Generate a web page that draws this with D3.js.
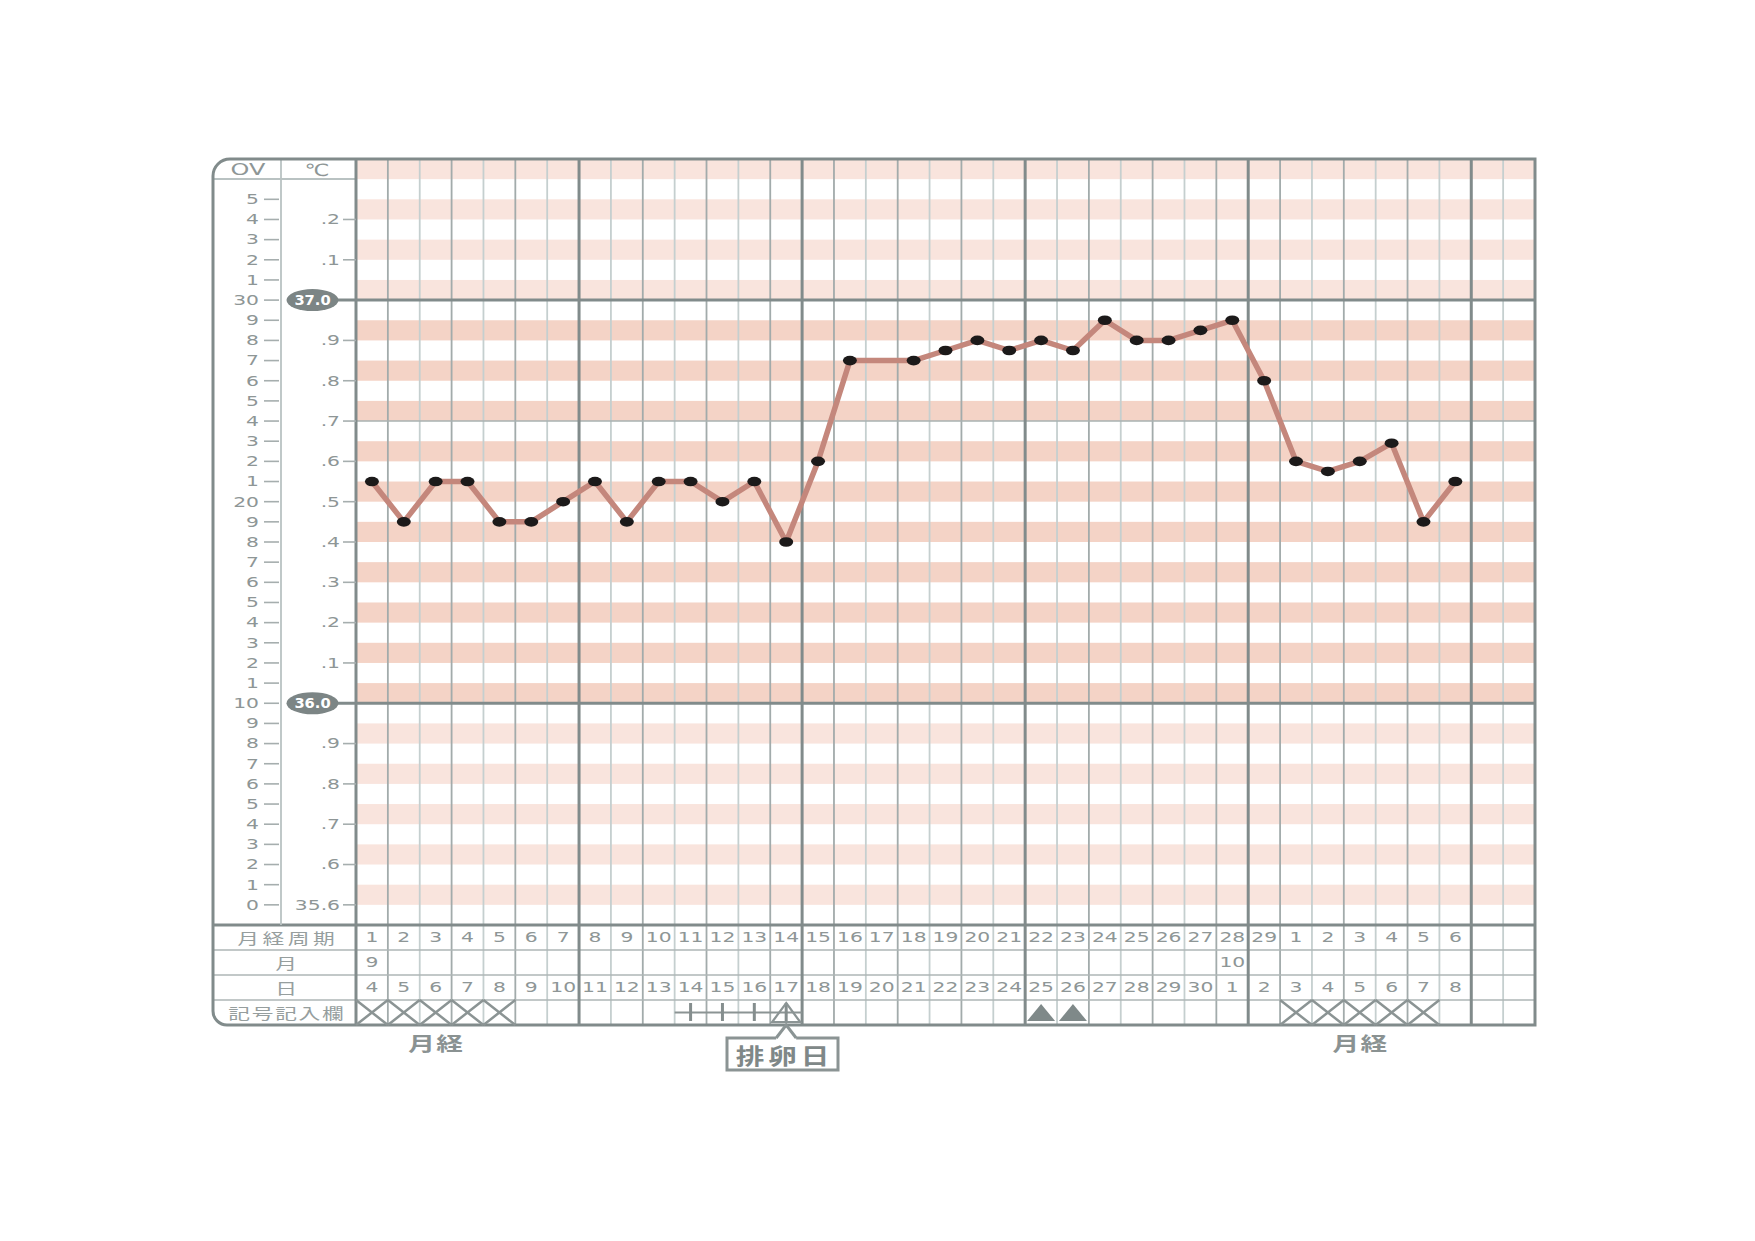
<!DOCTYPE html>
<html><head><meta charset="utf-8">
<script src="https://cdn.jsdelivr.net/npm/d3@7"></script>
<style>
body{margin:0;background:#fff;}
</style></head><body>
<svg id="c" width="1755" height="1241"></svg>
<script>
// ---------------- DATA ----------------
const cycleDays = [1,2,3,4,5,6,7,8,9,10,11,12,13,14,15,16,17,18,19,20,21,22,23,24,25,26,27,28,29,1,2,3,4,5,6];
const dates     = [4,5,6,7,8,9,10,11,12,13,14,15,16,17,18,19,20,21,22,23,24,25,26,27,28,29,30,1,2,3,4,5,6,7,8];
const monthLabels = [{col:1, text:"9"}, {col:28, text:"10"}];
const temps = [36.55,36.45,36.55,36.55,36.45,36.45,36.50,36.55,36.45,36.55,36.55,36.50,36.55,36.40,
               36.60,36.85,null,36.85,36.875,36.90,36.875,36.90,36.875,36.95,36.90,36.90,36.925,36.95,36.80,
               36.60,36.575,36.60,36.645,36.45,36.55];
const menstruationCols = [1,2,3,4,5,30,31,32,33,34];
const crossCols = [11,12,13,14];
const openTriangleCols = [14];
const filledTriangleCols = [22,23];
const ovLabels = ["5","4","3","2","1","30","9","8","7","6","5","4","3","2","1","20","9","8","7","6","5","4","3","2","1","10","9","8","7","6","5","4","3","2","1","0"];
const celsiusLabels = [".2",".1","37.0",".9",".8",".7",".6",".5",".4",".3",".2",".1","36.0",".9",".8",".7",".6","35.6"];
const rowNames = ["月経周期","月","日","記号記入欄"];
const periodNote = "月経";
const ovulationNote = "排卵日";
const totalCols = 37;

// ---------------- SETUP ----------------
const svg = d3.select("#c");
const FN = "'DejaVu Sans', sans-serif";
const FJ = "'Noto Sans CJK JP', 'Noto Sans CJK SC', sans-serif";
const GRID = "#818b8b", LIGHT = "#b9c2c2", TXT = "#8e9696";
const x = d3.scaleLinear().domain([0, totalCols]).range([356, 1535]);
const y = d3.scaleLinear().domain([35.45, 37.35]).range([925, 159]);
const ovT = v => 35.5 + 0.05 * v;
const rowY = d3.scaleBand().domain(rowNames).range([925, 1025]);
const colC = c => x(c - 0.5);

function txt(g, px, py, s, o) {
  const sx = o.sx || 1, ls = o.ls || 0;
  const a = o.anchor || "middle";
  g.append("text")
    .attr("transform", `translate(${px},${py}) scale(${sx},1)`)
    .attr("dx", a === "middle" ? ls / 2 : (a === "end" ? ls : 0))
    .attr("text-anchor", a)
    .attr("dominant-baseline", "central")
    .attr("font-family", o.family || FN)
    .attr("font-size", o.size || 14)
    .attr("font-weight", o.weight || "normal")
    .attr("letter-spacing", ls)
    .attr("fill", o.fill || TXT)
    .text(s);
}

// ---------------- STRIPES ----------------
const bands = d3.range(0, 19).map(k => ({lo: 2 * k, hi: 2 * k + 1}));
svg.append("g").selectAll("rect").data(bands).join("rect")
  .attr("x", x(0)).attr("width", x(totalCols) - x(0))
  .attr("y", d => y(ovT(d.hi))).attr("height", d => y(ovT(d.lo)) - y(ovT(d.hi)))
  .attr("fill", d => (d.lo >= 10 && d.lo < 30) ? "#f4d3c6" : "#f9e4dd");

// ---------------- GRID ----------------
const gGrid = svg.append("g");
const bounds = d3.range(1, totalCols);
gGrid.selectAll("line.minor").data(bounds.filter(b => b % 7 !== 0)).join("line")
  .attr("x1", b => x(b)).attr("x2", b => x(b)).attr("y1", 159).attr("y2", 1025)
  .attr("stroke", b => b % 2 ? "#a2abab" : "#c5cfcf").attr("stroke-width", 1.8);

// special temperature lines
gGrid.append("line").attr("x1", x(0)).attr("x2", x(totalCols))
  .attr("y1", y(36.7)).attr("y2", y(36.7)).attr("stroke", "#a9b2b2").attr("stroke-width", 1.6);
[37.0, 36.0].forEach(t => {
  gGrid.append("line").attr("x1", 338).attr("x2", x(totalCols))
    .attr("y1", y(t)).attr("y2", y(t)).attr("stroke", GRID).attr("stroke-width", 3);
});

// table row lines
rowNames.slice(1).forEach(r => {
  gGrid.append("line").attr("x1", 213).attr("x2", x(totalCols))
    .attr("y1", rowY(r)).attr("y2", rowY(r)).attr("stroke", "#aeb6b6").attr("stroke-width", 1.6);
});
gGrid.append("line").attr("x1", 213).attr("x2", x(totalCols))
  .attr("y1", 925).attr("y2", 925).attr("stroke", GRID).attr("stroke-width", 3);

// major verticals
gGrid.selectAll("line.major").data(bounds.filter(b => b % 7 === 0)).join("line")
  .attr("x1", b => x(b)).attr("x2", b => x(b)).attr("y1", 159).attr("y2", 1025)
  .attr("stroke", GRID).attr("stroke-width", 3);

// left panel
gGrid.append("line").attr("x1", 281).attr("x2", 281).attr("y1", 159).attr("y2", 925)
  .attr("stroke", LIGHT).attr("stroke-width", 1.8);
gGrid.append("line").attr("x1", 213).attr("x2", x(0)).attr("y1", 179).attr("y2", 179)
  .attr("stroke", LIGHT).attr("stroke-width", 1.8);
gGrid.append("line").attr("x1", x(0)).attr("x2", x(0)).attr("y1", 159).attr("y2", 1025)
  .attr("stroke", GRID).attr("stroke-width", 3);

// outer frame
const L = 213, T = 159, R = x(totalCols), B = 1025, r1 = 17, r2 = 14;
svg.append("path")
  .attr("d", `M${L + r1},${T} H${R} V${B} H${L + r2} A${r2},${r2} 0 0 1 ${L},${B - r2} V${T + r1} A${r1},${r1} 0 0 1 ${L + r1},${T} Z`)
  .attr("fill", "none").attr("stroke", GRID).attr("stroke-width", 3);

// ---------------- AXIS LABELS ----------------
const gAx = svg.append("g");
txt(gAx, 248, 170, "OV", {size: 16, sx: 1.5});
txt(gAx, 317, 170, "℃", {size: 17, sx: 1.3});

ovLabels.forEach((s, i) => {
  const yy = y(ovT(35 - i));
  txt(gAx, 259, yy, s, {size: 14, sx: 1.45, anchor: "end"});
  gAx.append("line").attr("x1", 264).attr("x2", 279).attr("y1", yy).attr("y2", yy)
    .attr("stroke", "#a6aeae").attr("stroke-width", 1.6);
});
celsiusLabels.forEach((s, i) => {
  const yy = y(ovT(34 - 2 * i));
  if (s === "37.0" || s === "36.0") {
    gAx.append("ellipse").attr("cx", 312.5).attr("cy", yy).attr("rx", 26).attr("ry", 11).attr("fill", "#7c8585");
    txt(gAx, 312.5, yy, s, {size: 14, sx: 1.05, weight: "bold", fill: "#ffffff"});
  } else {
    txt(gAx, 340, yy, s, {size: 14, sx: 1.45, anchor: "end"});
    gAx.append("line").attr("x1", 343).attr("x2", 356).attr("y1", yy).attr("y2", yy)
      .attr("stroke", "#a6aeae").attr("stroke-width", 1.6);
  }
});

// ---------------- DATA LINE ----------------
const pts = temps.map((t, i) => ({col: i + 1, t})).filter(d => d.t !== null);
svg.append("path").datum(pts)
  .attr("d", d3.line().x(d => colC(d.col)).y(d => y(d.t)))
  .attr("fill", "none").attr("stroke", "#c4877c").attr("stroke-width", 5.5)
  .attr("stroke-linejoin", "round");
svg.append("g").selectAll("ellipse").data(pts).join("ellipse")
  .attr("cx", d => colC(d.col)).attr("cy", d => y(d.t))
  .attr("rx", 7).attr("ry", 4.8).attr("fill", "#1c1a1a");

// ---------------- TABLE ----------------
const gT = svg.append("g");
const rc = r => rowY(r) + rowY.bandwidth() / 2;
rowNames.forEach(r => txt(gT, 286, rc(r), r, {family: FJ, size: 15, sx: 1.45, ls: r.length > 4 ? 1.2 : 2.4, fill: "#969e9e"}));
cycleDays.forEach((d, i) => txt(gT, colC(i + 1), rc("月経周期"), String(d), {size: 14, sx: 1.45}));
monthLabels.forEach(m => txt(gT, colC(m.col), rc("月"), m.text, {size: 14, sx: 1.45}));
dates.forEach((d, i) => txt(gT, colC(i + 1), rc("日"), String(d), {size: 14, sx: 1.45}));

const symTop = rowY("記号記入欄"), symBot = symTop + rowY.bandwidth(), symMid = (symTop + symBot) / 2;
menstruationCols.forEach(c => {
  gT.append("path")
    .attr("d", `M${x(c - 1)},${symTop} L${x(c)},${symBot} M${x(c)},${symTop} L${x(c - 1)},${symBot}`)
    .attr("stroke", "#8b9494").attr("stroke-width", 2.5).attr("fill", "none");
});
gT.append("line").attr("x1", x(d3.min(crossCols) - 1)).attr("x2", x(d3.max(crossCols)))
  .attr("y1", symMid).attr("y2", symMid).attr("stroke", "#8b9494").attr("stroke-width", 2.2);
crossCols.forEach(c => {
  gT.append("line").attr("x1", colC(c)).attr("x2", colC(c)).attr("y1", symTop + 3).attr("y2", symBot - 4)
    .attr("stroke", "#858e8e").attr("stroke-width", 3);
});
openTriangleCols.forEach(c => {
  const cx = colC(c);
  gT.append("path").attr("d", `M${cx},${symTop + 3} L${cx + 14},${symBot - 3} L${cx - 14},${symBot - 3} Z`)
    .attr("fill", "none").attr("stroke", "#8b9494").attr("stroke-width", 2.2);
});
filledTriangleCols.forEach(c => {
  const cx = colC(c);
  gT.append("path").attr("d", `M${cx},${symTop + 4} L${cx + 14},${symBot - 4} L${cx - 14},${symBot - 4} Z`)
    .attr("fill", "#7f8989");
});

// notes below
const pc1 = (x(menstruationCols[0] - 1) + x(menstruationCols[4])) / 2;
const pc2 = (x(menstruationCols[5] - 1) + x(menstruationCols[9])) / 2;
[pc1, pc2].forEach(px => txt(gT, px, 1043, periodNote, {family: FJ, size: 19, sx: 1.4, ls: 1, weight: "bold", fill: "#8a9292"}));

const oc = colC(openTriangleCols[0]);
gT.append("path")
  .attr("d", `M${oc - 10},1038 L${oc},${symBot} L${oc + 10},1038 M${oc - 10},1038 H727 V1070 H838 V1038 H${oc + 10}`)
  .attr("fill", "none").attr("stroke", "#8b9494").attr("stroke-width", 3).attr("stroke-linejoin", "miter");
txt(gT, 782.5, 1054, ovulationNote, {family: FJ, size: 22, sx: 1.3, ls: 3, weight: "bold", fill: "#7f8888"});
</script>
</body></html>
